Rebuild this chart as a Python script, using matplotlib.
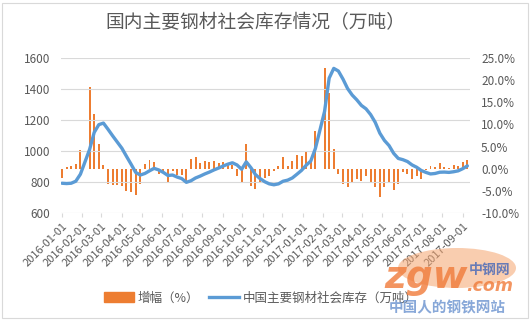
import matplotlib
matplotlib.use("Agg")
import matplotlib.pyplot as plt
import matplotlib.dates as mdates
from matplotlib.patches import Rectangle, Ellipse
from matplotlib.ticker import FixedLocator, FuncFormatter
import pandas as pd

plt.rcParams['font.family'] = ['Noto Sans CJK SC', 'DejaVu Sans']

# Weekly report dates (Fridays); the Spring Festival weeks have no report
all_weeks = pd.date_range('2016-01-01', '2017-09-08', freq='7D')
holiday_weeks = [pd.Timestamp('2016-02-05'), pd.Timestamp('2017-01-27')]
dates = [d for d in all_weeks if d not in holiday_weeks]

# Week-on-week change of stocks (%)
change_pct = [
    -2.1, 0.4, 0.6, 1.1, 4.3,
    18.5, 12.3, 5.5, 0.8, -3.5, -3.6, -3.6, -3.8, -5.1, -5.3, -5.9, -3.4,
    1.1, 2.0, 1.5, -1.1, -0.6, -3.0, -0.5, -1.5, -1.5, -3.0,
    2.2, 2.7, 1.4, 1.8, 1.6, 1.8, 1.3, 1.6, 1.3, 0.8, -1.6, -3.3, 5.6,
    -3.9, -4.6, -3.1, -2.2, -1.6, -0.5, 0.7, 2.6, 0.5, 1.8, 3.0, 2.8, 4.0, 2.4, 8.6,
    22.7, 17.0, 4.4, -1.1, -3.4, -4.2, -3.0, -2.3, -2.7, -1.7, -3.0, -4.2, -6.3,
    -4.2, -3.0, -4.9, -3.4, -0.8, -1.2, -2.4, -1.6, -2.3, -0.4,
    0.7, 0.3, 1.4, 0.3, 0.2, 0.8, 0.7, 1.6, 2.0,
]

# Social stocks of major steel products (10k tonnes)
stock = [
    792, 790, 792, 805, 850,
    1010, 1120, 1170, 1180, 1140, 1098, 1058, 1018, 966, 915, 862, 845,
    855, 872, 888, 878, 862, 842, 845, 832, 822, 798,
    808, 826, 838, 852, 864, 878, 890, 903, 915, 924, 910, 882, 930,
    893, 848, 822, 802, 788, 782, 788, 805, 812, 826, 850, 875, 908, 935, 1015,
    1255, 1470, 1533, 1516, 1464, 1403, 1361, 1330, 1294, 1272, 1235, 1185, 1115,
    1068, 1035, 985, 952, 944, 932, 910, 895, 874, 862,
    852, 855, 863, 864, 862, 866, 872, 886, 904,
]

month_ticks = pd.date_range('2016-01-01', '2017-09-01', freq='MS')
tick_labels = [d.strftime('%Y-%m-%d') for d in month_ticks]

title = '国内主要钢材社会库存情况（万吨）'
bar_label = '增幅（%）'
line_label = '中国主要钢材社会库存（万吨）'

W, H = 532, 323
BAR_COLOR = '#ED7D31'
LINE_COLOR = '#5B9BD5'
TEXT_COLOR = '#595959'
GRID_COLOR = '#D9D9D9'

fig = plt.figure(figsize=(W / 100, H / 100), dpi=100)
fig.patch.set_facecolor('white')


def fx(px):
    return px / W


def fy(py):
    return 1 - py / H


left, right, top, bottom = 61.3, 470, 58, 213
ax = fig.add_axes([fx(left), fy(bottom), fx(right) - fx(left), fy(top) - fy(bottom)])
ax2 = ax.twinx()
ax.set_zorder(ax2.get_zorder() + 1)
ax.patch.set_visible(False)

# bars on the percentage scale
ax2.bar(dates, change_pct, width=3.0, color=BAR_COLOR, zorder=2)
ax2.set_ylim(-10, 25)
ax2.set_yticks(range(-10, 26, 5))
ax2.yaxis.set_major_formatter(FuncFormatter(lambda v, p: f'{v:.1f}%'))

# stock line on the left scale
ax.plot(dates, stock, color=LINE_COLOR, lw=2.4, solid_capstyle='round',
        solid_joinstyle='round', zorder=3)
ax.set_ylim(600, 1600)
ax.set_yticks(range(600, 1601, 200))
ax.grid(axis='y', color=GRID_COLOR, lw=0.8)
ax.set_axisbelow(True)

ax.set_xlim(pd.Timestamp('2015-12-31'), pd.Timestamp('2017-09-12'))
ax.xaxis.set_major_locator(FixedLocator(mdates.date2num(month_ticks)))
ax.set_xticklabels(tick_labels, rotation=45, ha='right', va='top',
                   rotation_mode='anchor')

for a in (ax, ax2):
    for s in ('left', 'right', 'top'):
        a.spines[s].set_visible(False)
    a.spines['bottom'].set_visible(False)
ax.tick_params(axis='x', length=3, width=0.8, color=GRID_COLOR, labelsize=8,
               labelcolor=TEXT_COLOR, pad=3)
ax.tick_params(axis='y', length=0, labelsize=8.5, labelcolor=TEXT_COLOR, pad=8)
ax2.tick_params(axis='y', length=0, labelsize=8.5, labelcolor=TEXT_COLOR, pad=8)
ax2.tick_params(axis='x', length=0)

fig.text(fx(255), fy(23), title, ha='center', va='center', fontsize=13.5,
         color=TEXT_COLOR, fontweight='light')

# legend
handles = [
    plt.Rectangle((0, 0), 1, 1, color=BAR_COLOR),
    plt.Line2D([0], [0], color=LINE_COLOR, lw=2.4),
]
fig.legend(handles, [bar_label, line_label], loc='center',
           bbox_to_anchor=(fx(261), fy(298)), ncol=2, frameon=False,
           fontsize=9, labelcolor=TEXT_COLOR, handlelength=2.4,
           handleheight=0.8, handletextpad=0.3, columnspacing=0.8)

# site watermark
fig.patches.append(Ellipse((fx(457), fy(268)), fx(118), 40 / H,
                           transform=fig.transFigure, facecolor='#F5A46E',
                           edgecolor='none', alpha=0.55, zorder=5))
fig.patches.append(Rectangle((fx(390), fy(300)), fx(135), 32 / H,
                             transform=fig.transFigure, facecolor='white',
                             edgecolor='none', alpha=0.0, zorder=5))
fig.text(fx(384), fy(288), 'zgw', fontsize=27, fontweight='bold',
         fontstyle='italic', family='DejaVu Sans', color='#F07B3A', alpha=0.8,
         ha='left', va='baseline', zorder=6)
fig.text(fx(466), fy(291), '.com', fontsize=12.5, fontweight='bold',
         fontstyle='italic', family='DejaVu Sans', color='#F07B3A', alpha=0.8,
         ha='left', va='baseline', zorder=6)
fig.text(fx(490), fy(270), '中钢网', fontsize=10, fontweight='bold',
         fontstyle='italic', color='#4F6DB8', alpha=0.85,
         ha='center', va='center', zorder=6)
fig.text(fx(447), fy(307), '中国人的钢铁网站', fontsize=10.5, fontweight='bold',
         color='#6A92CF', alpha=0.8, ha='center', va='center', zorder=6)

# outer chart border
fig.patches.append(Rectangle((fx(2), fy(318)), fx(526), (315) / H,
                             transform=fig.transFigure, fill=False,
                             edgecolor=GRID_COLOR, lw=0.8, zorder=1))

fig.savefig('out.png', dpi=100, facecolor='white')
